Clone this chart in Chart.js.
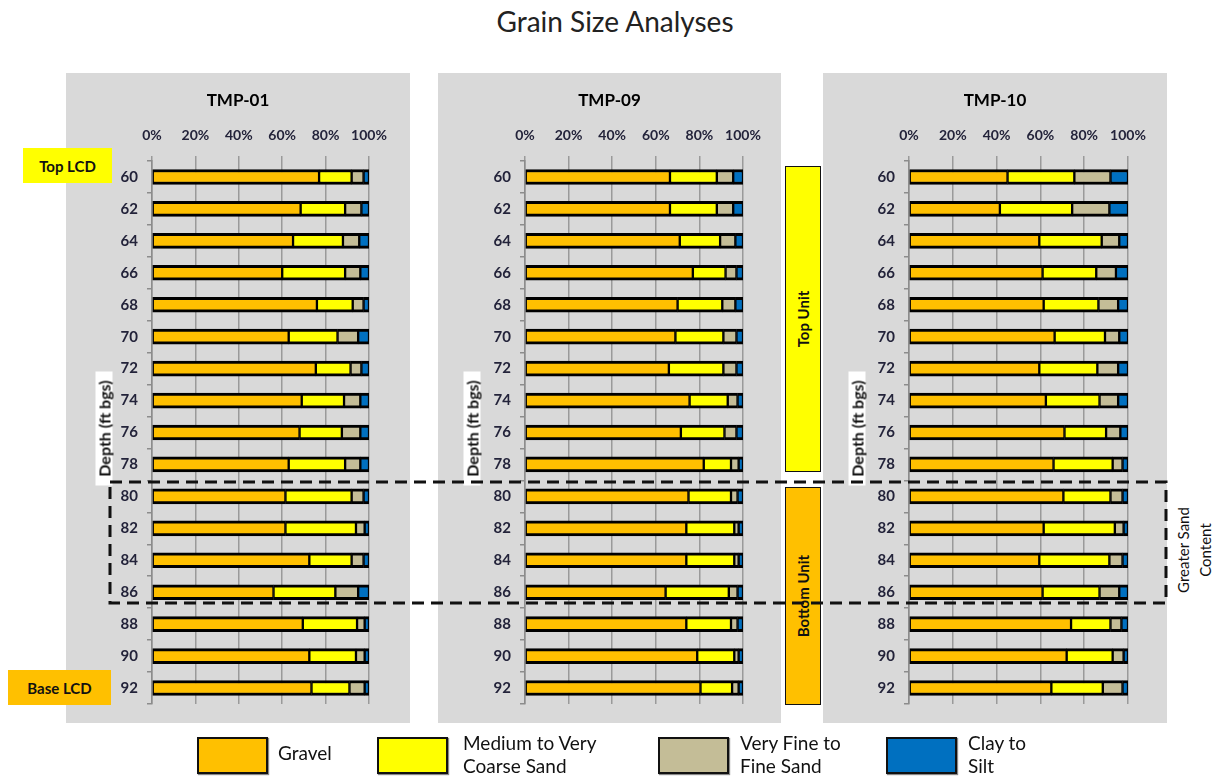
<!DOCTYPE html>
<html>
<head>
<meta charset="utf-8">
<script src="https://cdn.jsdelivr.net/npm/chart.js@4.4.1/dist/chart.umd.min.js"></script>
<style>
body { margin: 0; background: #fff; font-family: Lato, sans-serif; }
#page { position: relative; width: 1214px; height: 778px; overflow: hidden; }
#title { position: absolute; left: 0; width: 1230px; top: 4px; text-align: center; font-size: 28px; color: #222; }
.panel { position: absolute; top: 73px; height: 650px; background: #d9d9d9; }
.panel canvas { position: absolute; left: 0; top: 0; }
.depth { position: absolute; width: 114px; height: 17px; line-height: 17px; background: #fff; text-align: center;
         font-weight: bold; font-size: 16px; color: #111; transform: rotate(-90deg); }
.tag { position: absolute; font-weight: bold; font-size: 15px; color: #111; display: flex; align-items: center; justify-content: center; }
.unit { position: absolute; border: 1.5px solid #111; box-sizing: border-box; }
.unit span { position: absolute; left: 50%; top: 50%; white-space: nowrap; font-weight: bold; font-size: 15px; color: #111;
             transform: translate(-50%, -50%) rotate(-90deg); }
#sand { position: absolute; left: 1194px; top: 550px; white-space: nowrap; font-size: 15px; line-height: 22px; color: #111; text-align: center;
        transform: translate(-50%, -50%) rotate(-90deg); }
.key { position: absolute; top: 737px; width: 67px; height: 33px; border: 2px solid #111; box-shadow: 1px 1px 1px #888; }
.keytext { position: absolute; font-size: 19px; line-height: 23px; color: #111; }
svg { position: absolute; left: 0; top: 0; }
</style>
</head>
<body>
<div id="page">
  <div id="title">Grain Size Analyses</div>
  <div class="panel" style="left:66px;width:344px"><canvas id="c1" width="344" height="650"></canvas></div>
  <div class="panel" style="left:438px;width:343px"><canvas id="c2" width="343" height="650"></canvas></div>
  <div class="panel" style="left:823px;width:344px"><canvas id="c3" width="344" height="650"></canvas></div>

  <div class="depth" style="left:47px;top:420px">Depth (ft bgs)</div>
  <div class="depth" style="left:415px;top:420px">Depth (ft bgs)</div>
  <div class="depth" style="left:800px;top:420px">Depth (ft bgs)</div>

  <div class="tag" style="left:23px;top:148px;width:89px;height:35px;background:#ffff00">Top LCD</div>
  <div class="tag" style="left:8px;top:670px;width:103px;height:35px;background:#ffc000">Base LCD</div>

  <div class="unit" style="left:785px;top:166px;width:36px;height:306px;background:#ffff00"><span>Top Unit</span></div>
  <div class="unit" style="left:785px;top:487px;width:36px;height:218px;background:#ffc000"><span>Bottom Unit</span></div>

  <div id="sand">Greater Sand<br>Content</div>

  <svg width="1214" height="778">
    <rect x="110" y="482" width="1056" height="121" fill="none" stroke="#111" stroke-width="3" stroke-dasharray="12 7"></rect>
  </svg>

  <div id="legend"></div>
</div>

<script>
var depths = ['60', '62', '64', '66', '68', '70', '72', '74', '76', '78', '80', '82', '84', '86', '88', '90', '92'];
var seriesNames = ['Gravel', 'Medium to Very Coarse Sand', 'Very Fine to Fine Sand', 'Clay to Silt'];
var seriesColors = ['#ffc000', '#ffff00', '#c4bd97', '#0070c0'];

// TMP-01
var tmp01Gravel = [77, 68.5, 65, 60, 76, 63, 75.5, 69, 68, 63, 61.5, 61.5, 72.5, 56, 69.5, 72.5, 73.5];
var tmp01Medium = [15, 20.5, 23, 29, 16.5, 22.5, 16, 19.5, 19.5, 26, 30.5, 32.5, 19.5, 28.5, 25, 21.5, 17.5];
var tmp01Fine = [5.5, 7.5, 7.5, 7, 5, 9.5, 5, 7.5, 8.5, 7, 5.5, 4, 5.5, 10.5, 3.5, 4, 7];
var tmp01Clay = [2.5, 3.5, 4.5, 4, 2.5, 5, 3.5, 4, 4, 4, 2.5, 2, 2.5, 5, 2, 2, 2];

// TMP-09
var tmp09Gravel = [66.5, 66.5, 71, 77, 70, 69, 66, 75.5, 71.5, 82, 75, 74, 74, 64.5, 74, 79, 80.5];
var tmp09Medium = [21.5, 21.5, 18.5, 15, 20.5, 22, 25, 17.5, 20, 12.5, 19.5, 22, 22, 29, 20.5, 17, 14.5];
var tmp09Fine = [7.5, 7.5, 7, 5, 6, 6, 6, 4.5, 5.5, 3.5, 3, 2, 2, 4, 3, 2, 3];
var tmp09Clay = [4.5, 4.5, 3.5, 3, 3.5, 3, 3, 2.5, 3, 2, 2.5, 2, 2, 2.5, 2.5, 2, 2];

// TMP-10
var tmp10Gravel = [45, 41.5, 59.5, 61, 61.5, 66.5, 59.5, 62.5, 71, 66, 70.5, 61.5, 59.5, 61, 74, 72, 65];
var tmp10Medium = [30.5, 33, 28.5, 24.5, 25, 23, 26.5, 24.5, 19, 27, 21.5, 32.5, 32, 26, 18, 21, 23.5];
var tmp10Fine = [16.5, 17, 8, 9, 9, 6.5, 9.5, 8.5, 6.5, 4.5, 5.5, 4, 6, 9, 5, 5, 9];
var tmp10Clay = [8, 8.5, 4, 5.5, 4.5, 4, 4.5, 4.5, 3.5, 2.5, 2.5, 2, 2.5, 4, 3, 2, 2.5];

var tickColor = '#23233a';
var gridColor = '#9a9a9a';

function writeChart(chartId, title, series, side, yWidth) {
    const ctx = document.getElementById(chartId).getContext('2d');

    var datasets = series.map((values, i) => ({
        label: seriesNames[i],
        data: values,
        backgroundColor: seriesColors[i],
        borderColor: '#000',
        borderWidth: { top: 3, bottom: 3, left: 1.5, right: 1.5 },
        borderSkipped: false,
        barThickness: 15
    }));

    var config = {
        type: 'bar',
        data: { labels: depths, datasets: datasets },
        options: {
            indexAxis: 'y',
            responsive: false,
            animation: false,
            layout: { padding: { left: side, right: side, top: 0, bottom: 19 } },
            plugins: {
                legend: { display: false },
                tooltip: { enabled: false },
                title: {
                    display: true,
                    text: title,
                    color: '#000',
                    font: { family: 'Lato', size: 17, weight: 'bold' },
                    padding: { top: 17, bottom: 0 }
                }
            },
            scales: {
                x: {
                    position: 'top',
                    stacked: true,
                    min: 0,
                    max: 100,
                    ticks: {
                        stepSize: 20,
                        callback: v => v + '%',
                        color: tickColor,
                        font: { family: 'Lato', size: 14, weight: 'bold' },
                        padding: 12
                    },
                    grid: { color: gridColor, lineWidth: 1.5, tickLength: 5 },
                    border: { display: false },
                    afterFit: s => { s.height = 50.6; }
                },
                y: {
                    stacked: true,
                    ticks: {
                        color: tickColor,
                        font: { family: 'Lato', size: 15, weight: 'bold' },
                        padding: 9
                    },
                    grid: { offset: true, drawOnChartArea: false, tickLength: 5, color: '#8c8c8c', lineWidth: 1.5 },
                    border: { color: '#8c8c8c', width: 1.5 },
                    afterFit: s => { s.width = yWidth; }
                }
            }
        }
    };

    return new Chart(ctx, config);
}

function writeLegend() {
    var box = document.getElementById('legend');
    var keyLeft = [197, 377, 658, 886];
    var textLeft = [278, 463, 740, 968];
    var lines = [['Gravel'], ['Medium to Very', 'Coarse Sand'], ['Very Fine to', 'Fine Sand'], ['Clay to', 'Silt']];
    var result = '';

    for (var i = 0; i < seriesNames.length; i++) {
        result += '<div class="key" style="left:' + keyLeft[i] + 'px;background:' + seriesColors[i] + '"></div>';
        var top = lines[i].length == 1 ? 741 : 731;
        result += '<div class="keytext" style="left:' + textLeft[i] + 'px;top:' + top + 'px">' + lines[i].join('<br>') + '</div>';
    }

    box.innerHTML = result;
}

writeChart('c1', 'TMP-01', [tmp01Gravel, tmp01Medium, tmp01Fine, tmp01Clay], 41, 45);
writeChart('c2', 'TMP-09', [tmp09Gravel, tmp09Medium, tmp09Fine, tmp09Clay], 38, 49);
writeChart('c3', 'TMP-10', [tmp10Gravel, tmp10Medium, tmp10Fine, tmp10Clay], 39, 47);
writeLegend();
</script>
</body>
</html>
